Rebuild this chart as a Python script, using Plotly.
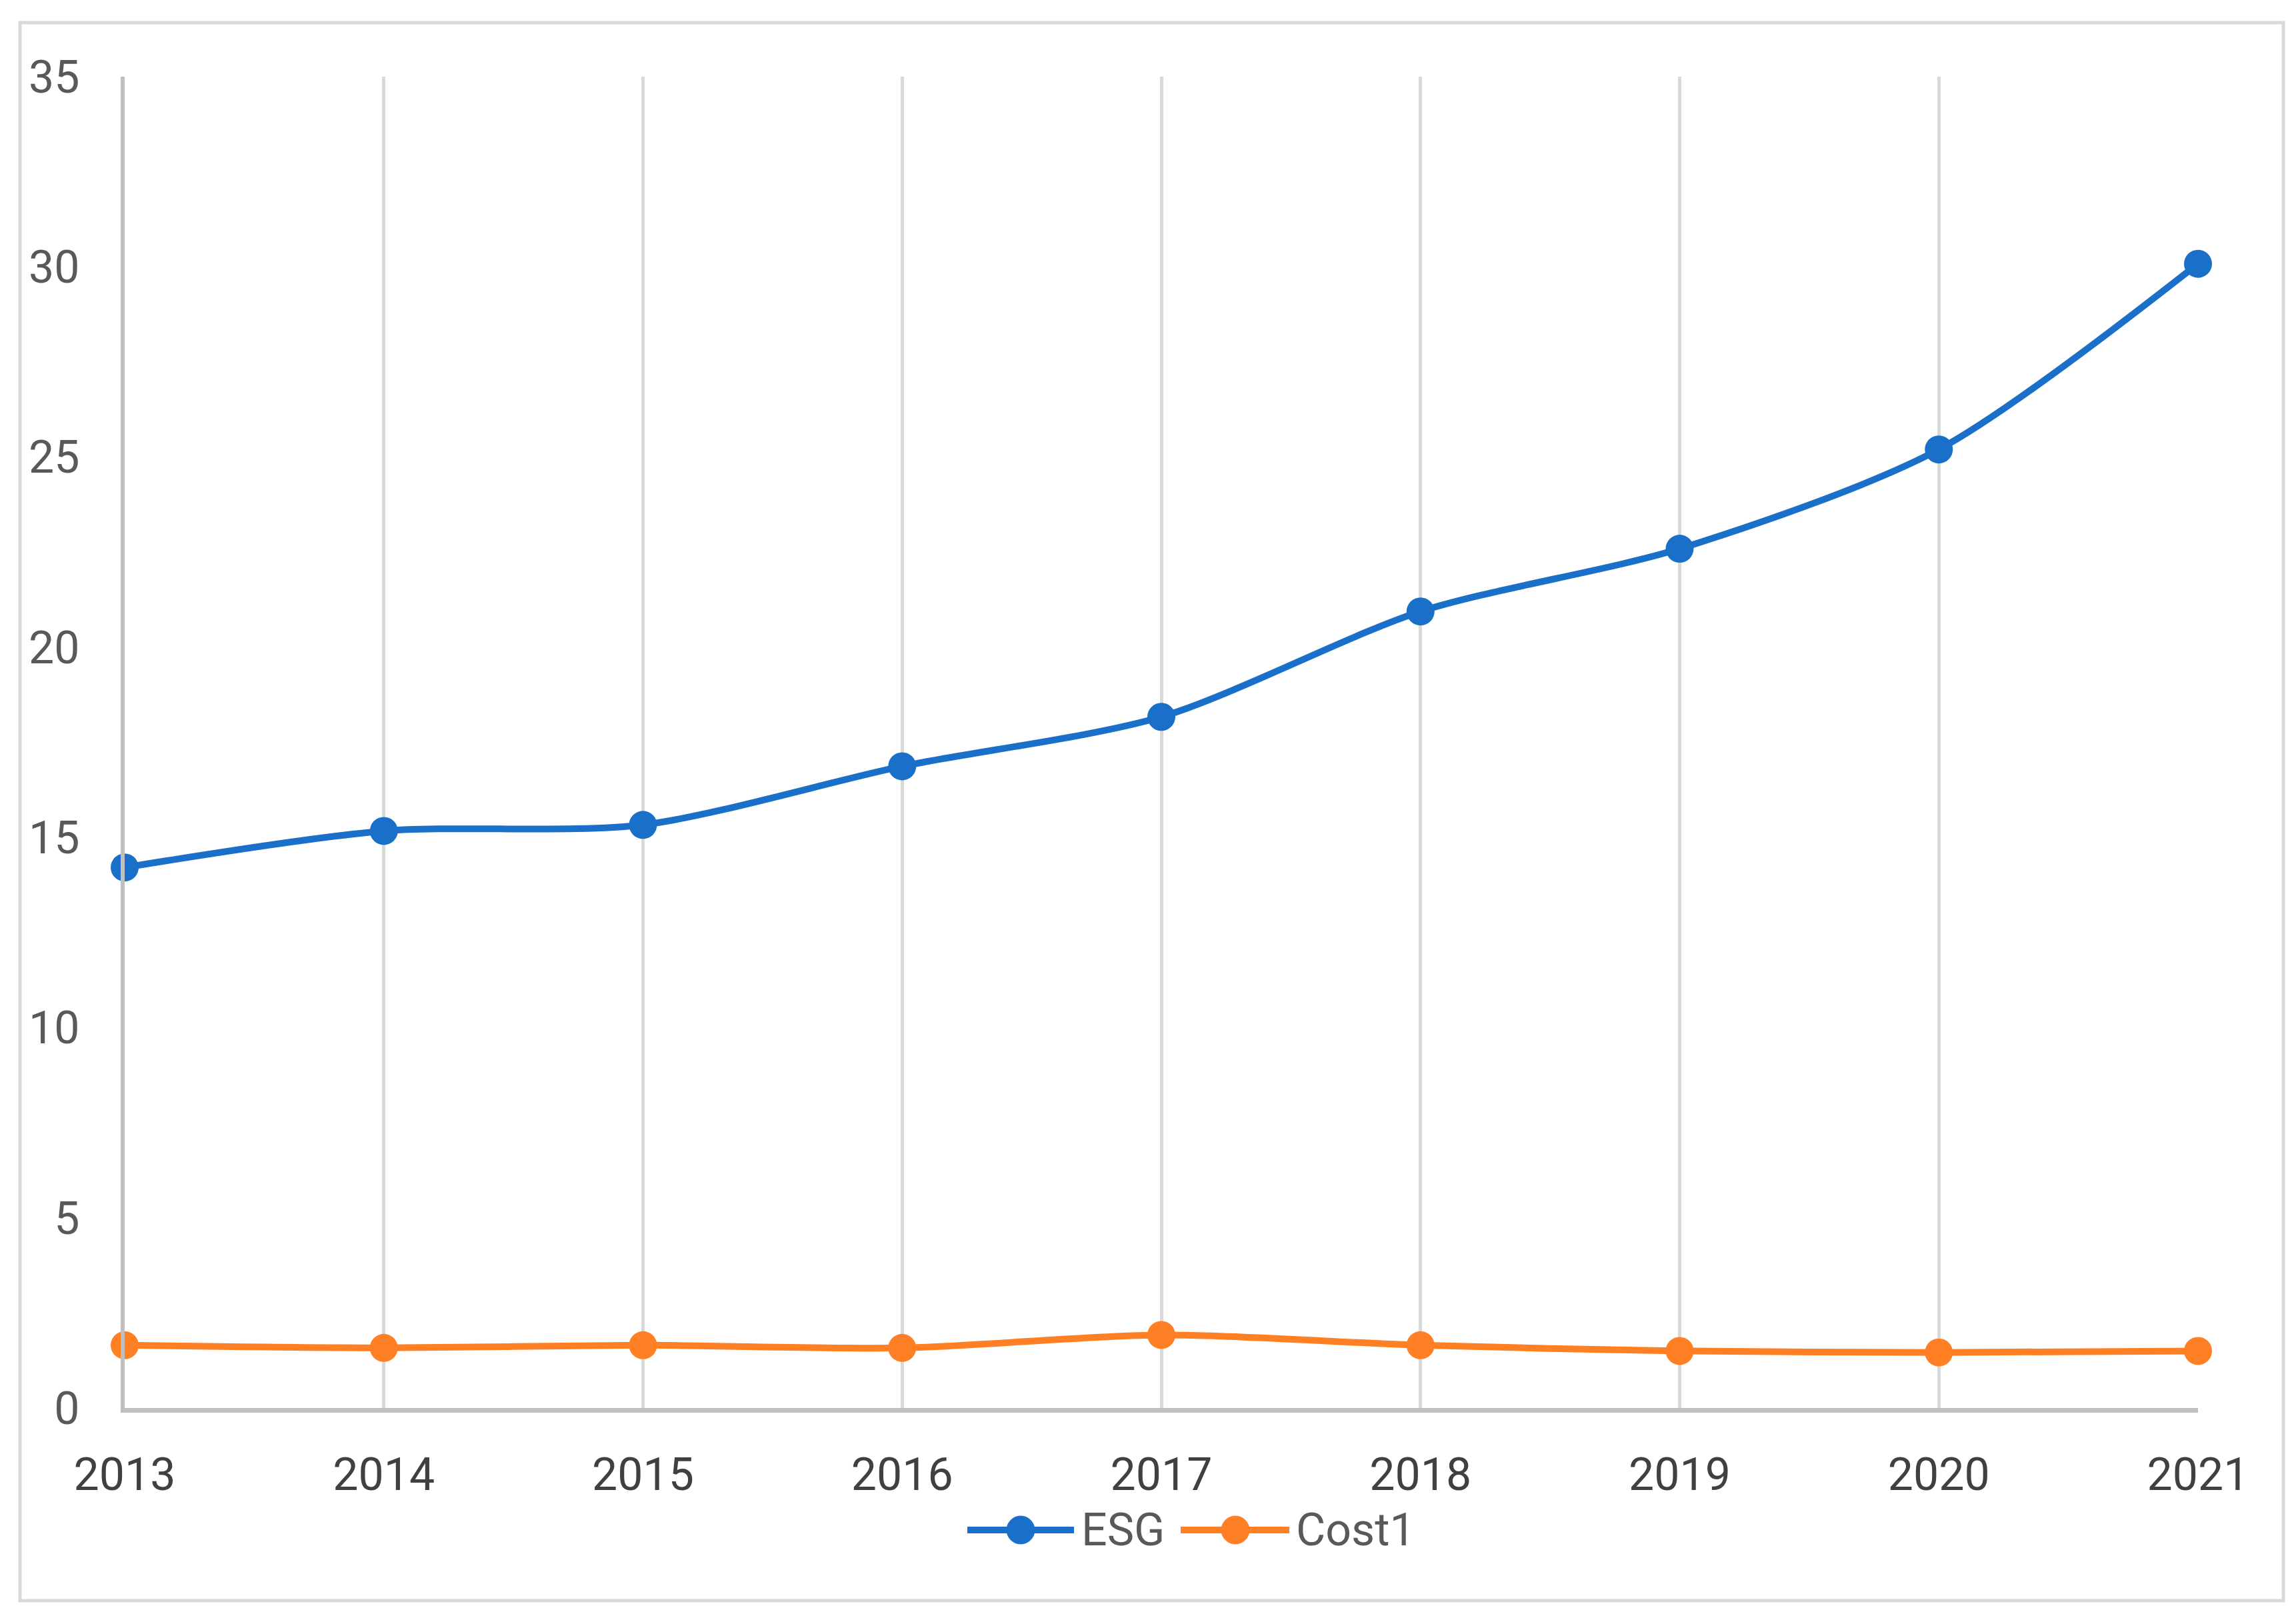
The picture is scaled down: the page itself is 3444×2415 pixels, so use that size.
import plotly.graph_objects as go

years = [2013, 2014, 2015, 2016, 2017, 2018, 2019, 2020, 2021]
esg = [14.21, 15.17, 15.33, 16.87, 18.17, 20.94, 22.59, 25.2, 30.08]
cost1 = [1.65, 1.58, 1.65, 1.58, 1.92, 1.65, 1.50, 1.46, 1.50]
y_ticks = [0, 5, 10, 15, 20, 25, 30, 35]
series_names = ["ESG", "Cost1"]
series_colors = ["#1A70C9", "#FF7F24"]

W, H = 3444, 2415
FONT = "Roboto"

ml, mr, mt, mb = 179, 155, 107, 311
pw = W - ml - mr
ph = H - mt - mb


def px(x):
    return (x - ml) / pw


def py(y):
    return 1 - (y - mt) / ph


fig = go.Figure()
for name, vals, col in zip(series_names, [esg, cost1], series_colors):
    fig.add_trace(go.Scatter(
        x=years, y=vals, name=name, mode="lines+markers",
        line=dict(color=col, width=10, shape="spline", smoothing=0.8),
        marker=dict(color=col, size=42),
        cliponaxis=False, showlegend=False,
    ))

# legend (drawn to match the reference's large symbols)
shapes = []
annotations = []
leg_y = 2287
leg_items = [(1443, 1603, 1523, 1613), (1763, 1926, 1845, 1935)]
for (lx0, lx1, mx, tx), name, col in zip(leg_items, series_names, series_colors):
    shapes.append(dict(type="line", xref="paper", yref="paper",
                       x0=px(lx0), x1=px(lx1), y0=py(leg_y), y1=py(leg_y),
                       line=dict(color=col, width=10)))
    shapes.append(dict(type="circle", xref="paper", yref="paper",
                       xsizemode="pixel", ysizemode="pixel",
                       xanchor=px(mx), yanchor=py(leg_y),
                       x0=-21, x1=21, y0=-21, y1=21,
                       line=dict(color=col, width=1), fillcolor=col))
    annotations.append(dict(xref="paper", yref="paper", x=px(tx), y=py(leg_y),
                            xanchor="left", yanchor="middle", showarrow=False,
                            text=name, borderpad=0,
                            font=dict(family=FONT, size=68, color="#595959")))

shapes.append(dict(
    type="rect", xref="paper", yref="paper",
    x0=px(22), x1=px(3417), y0=py(2393), y1=py(26),
    line=dict(color="#D9D9D9", width=5), fillcolor="rgba(0,0,0,0)",
    layer="below",
))

fig.update_layout(
    width=W, height=H,
    margin=dict(l=ml, r=mr, t=mt, b=mb, pad=0),
    paper_bgcolor="white", plot_bgcolor="white",
    font=dict(family=FONT, size=68, color="#595959"),
    showlegend=False,
    xaxis=dict(
        range=[2013, 2021], tickvals=years, ticktext=[str(y) for y in years],
        showgrid=True, gridcolor="#D9D9D9", gridwidth=5,
        showline=True, linecolor="#BFBFBF", linewidth=7,
        ticks="", zeroline=False, fixedrange=True,
        tickfont=dict(family=FONT, size=68, color="#404040"),
        ticklabelstandoff=34,
    ),
    yaxis=dict(
        range=[0, 35], tickvals=y_ticks,
        showgrid=False, showline=True, linecolor="#BFBFBF", linewidth=6,
        ticks="", zeroline=False, fixedrange=True,
        tickfont=dict(family=FONT, size=68, color="#595959"),
        ticklabelstandoff=48,
    ),
    shapes=shapes,
    annotations=annotations,
)

fig.write_html("out.html")
